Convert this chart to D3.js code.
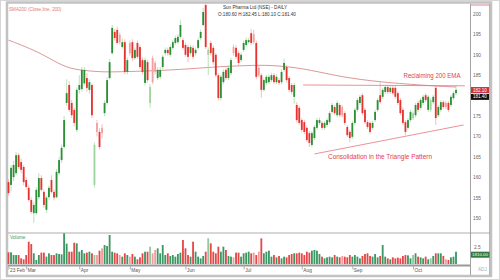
<!DOCTYPE html>
<html>
<head>
<meta charset="utf-8">
<script src="https://cdn.jsdelivr.net/npm/d3@7"></script>
<style>
  html, body { margin: 0; padding: 0; background: #fff; }
  svg { display: block; font-family: "Liberation Sans", Arial, sans-serif; }
</style>
</head>
<body>
<svg id="chart" width="500" height="280"></svg>
<script>
// daily candles
const opens = [
  158.8,158.1,160,161,165.4,163.7,162.5,159.3,157.4,154.4,
  151.2,151.2,155.1,159.8,156.4,152,155.1,159.3,156.4,155.1,
  161,164.2,167.4,178.2,182.6,178.2,176.5,171.6,181.4,181.6,
  183,184.3,181.4,182.6,158.1,173.3,171.1,172.1,175.7,178.2,
  184.3,190.4,195.6,196.1,194.9,191.9,193.1,185.8,192.9,193.1,
  189.2,192.9,191.9,188.7,183.1,188.2,178.2,189.2,188,184.3,
  184.6,187,190.4,191.2,190,191.7,192.9,193.1,194.4,193.6,
  192.4,191.9,190.4,191.7,190.4,191.7,194.1,197.3,202.2,190,
  192.9,191.7,190,185,179.4,183.3,186.3,184.3,185.5,191.9,
  191.7,190.4,188.7,191.2,192.4,193.1,195.3,195,192.9,186.8,
  185,181.4,183.1,183.3,183.8,185,183.3,183.8,183.3,186.3,
  187,184.3,182.6,179.7,177.7,177,174,173.5,172.1,170.8,
  167.9,169.6,172.1,173.3,173.3,172.1,172.8,173.5,176,177.2,
  175.2,177.7,177.2,175.7,172.3,171.1,169.9,173.3,176.5,178.2,
  180.1,176.5,173.5,173.3,172.1,174,176.5,180.1,179.7,180.9,
  182.1,180.9,181.9,181.9,180.6,178.9,176.5,173.5,172.1,174,
  174.5,175.2,178.2,177,178.2,180.1,176.5,176.5,178.4,181.9,
  175.2,176.5,178.4,178.2,178.2,177.7,179.4,180.6
];
const closes = [
  156.1,162.3,163,165.4,162.5,161.8,158.8,157.6,154.4,151.5,
  153.2,156.9,159.8,156.9,153.2,155,157.4,156.4,155,161.3,
  164.2,167.2,174,180.6,176.5,175.2,173.3,181.4,182.6,186.3,
  186.3,181.9,183.3,175.2,167.9,171.1,167.4,170.8,178.2,183.8,
  188.2,196.6,194.1,192.9,193.1,193.1,185.8,188.7,190.4,189.2,
  191.2,189.5,187,185.8,188.7,183.8,182.1,183.3,185.8,186.3,
  186.3,189.5,191.2,190.4,191.9,193.1,194.1,194.4,197.3,191.7,
  190,189.5,191.9,189.5,191.2,193.6,195.6,200.5,191.9,191.2,
  190.4,188.2,185,179.4,184.6,185.8,184.3,186.8,188.7,190.4,
  189.5,188,190,192.9,193.6,193.6,192.9,193.1,184.6,185,
  181.4,183.8,184.6,184.6,185,183.3,184.6,183.1,185.8,188,
  183.8,181.4,180.9,182.6,174,173.3,171.6,171.1,169.1,168.4,
  170.8,172.3,174,174,172.1,173.3,174,175.7,177.7,175.7,
  178.2,175.2,175.2,173.3,170.3,169.6,173.3,176.5,178.9,179.7,
  175.7,173.5,172.3,171.1,173.3,176,178.9,178.4,181.4,182.1,
  180.9,181.9,180.6,179.7,178.2,175.7,173.3,171.1,174,176,
  175.7,177.7,176.5,178.9,179.7,178.9,179.7,178.9,179.7,174.5,
  177.2,178.4,177.2,177.2,176.5,179.7,180.6,181.4
];
const highs = [
  159.5,163,164,166.2,166,164.5,163,160,158,155,
  154,157.5,161,160.5,157,155.5,158,160.5,157,162,
  165,168,175,184,183.5,179,177,182,185,187,
  187,185.5,184,183,168.5,174,172,173,178.8,184.5,
  189,197.3,196.3,196.8,195.5,194,193.8,189.3,193.5,193.8,
  191.8,193.5,192.5,189.3,189.3,188.8,182.8,189.8,188.5,187,
  187,190,191.8,191.8,192.5,193.7,194.7,195,198.5,194.2,
  193,192.5,192.5,192.3,191.8,194.2,196.2,201.5,202.8,191.8,
  193.5,192.3,190.5,185.5,185.2,186.4,186.8,187.4,189.3,192.5,
  192.3,191,190.6,193.5,194.2,194.2,196.3,196.1,193.5,187.3,
  185.5,184.3,185.1,185.2,185.6,185.5,185.2,184.3,186.4,189,
  187.5,184.8,183.1,183.2,178.4,177.5,174.5,174,172.6,171.3,
  171.3,172.8,174.5,174.6,173.8,173.8,174.5,176.2,178.2,177.7,
  178.8,178.2,177.7,176.2,172.8,171.6,173.8,177,179.4,180.2,
  180.6,177,174,173.8,173.8,176.5,179.4,183.3,181.9,182.6,
  182.6,182.4,182.4,182.4,181.1,179.4,177,174,174.5,176.5,
  176.2,178.2,178.7,179.4,180.2,180.6,180.2,179.4,180.2,182.6,
  177.7,178.9,178.9,178.7,178.7,180.2,181.1,182.45
];
const lows = [
  155.5,156.5,159,160.5,162,161,158,157,154,151,
  148.8,150.8,154.5,156.5,152.5,151.2,154.5,156,154.3,154.8,
  160.5,163.5,167,177.5,176,174.5,172.5,171,180.5,181,
  182.5,181,180.5,174.5,157.5,170,166.8,169.5,175,177.8,
  184,190,193.5,192.5,192.5,191.5,185.2,185.2,189.8,188.5,
  188.8,189,186.5,185.2,182.5,183.2,177,182.8,185.2,183.8,
  184,186.5,189.8,189.8,189.5,191.2,192.4,192.6,194,191.2,
  189.5,188.2,189.8,189,189.8,191.2,193.6,197,191.4,185,
  189.8,187.5,184.5,178.8,178.8,182.8,183.8,183.8,185,189.8,
  189,187.4,188.2,190.7,192,192.7,192.4,192.6,184,184.5,
  179.5,181,182.6,182.8,183.3,182.8,182.8,182.6,182.8,185.8,
  183.2,180.8,180.3,178,173.4,172.8,171,170.5,168.6,167.4,
  167.4,169.1,171.6,172.8,171.6,171.6,172.3,173,175.5,175.2,
  174.7,174.7,174.7,172.8,169.8,168.6,169.4,172.8,176,177.7,
  175.2,173,171.8,170.6,171.6,173.5,176,177.9,179.2,180.4,
  180.4,180.4,180.1,179.2,177.7,175.2,172.8,170.3,171.6,173.5,
  174,174.7,176,176.5,177.7,178.4,176,176,177.9,172.8,
  174.7,176,176.7,176.7,176,177.2,178.9,180.1
];
// volume in millions
const volumes = [
  1.72,1.72,1.32,1.32,1.32,0.83,0.69,1.32,3.28,2.94,
  1.57,0.59,1.32,1.67,1.67,1.08,1.57,1.32,1.32,1.57,
  1.47,1.42,4.51,3.0,1.81,1.81,3.14,3.04,1.81,2.06,
  1.57,1.67,1.81,1.57,1.32,1.32,1.96,2.30,2.79,2.65,
  4.26,1.81,1.67,1.57,1.32,1.08,1.57,1.32,1.08,1.47,
  1.08,0.69,0.98,1.57,1.81,1.81,2.55,1.57,2.06,2.30,
  1.57,2.79,1.32,1.57,1.18,1.32,1.08,1.47,1.67,3.53,
  2.30,1.32,1.08,3.28,1.81,1.08,0.83,1.18,1.81,3.77,
  3.04,1.81,1.57,2.55,1.81,2.55,2.06,1.18,1.08,0.98,
  1.67,1.67,1.08,1.57,1.67,1.81,1.57,1.67,1.32,1.81,
  3.77,1.57,1.81,1.96,1.08,1.32,0.98,1.18,0.83,1.08,
  0.98,1.32,1.47,1.57,1.57,1.67,1.57,1.32,1.81,1.67,
  1.96,2.06,1.96,1.47,1.08,0.83,0.98,1.08,0.98,1.32,
  1.08,0.98,1.18,1.08,0.98,1.32,1.08,1.32,1.08,0.83,
  1.18,1.47,1.57,1.18,1.08,1.47,0.98,1.18,2.79,1.08,
  0.83,0.69,0.98,0.83,0.93,0.83,1.18,1.32,1.27,0.83,
  1.32,1.57,1.08,0.98,0.83,1.08,0.69,0.83,1.18,1.57,
  1.57,1.57,1.18,0.69,0.59,0.98,1.08,1.81
];

// 200-day average, sampled at a few candles
const emaIdx  = [0, 10, 16, 23, 29, 36, 44, 67, 80, 95, 103, 116, 131, 147, 167, 177];
const emaVals = [193.6, 191.2, 189.2, 186.8, 186.2, 185.8, 185.8, 186.3, 187, 187.4, 187.5, 186.8, 184.6, 183.3, 182.4, 182.1];

// drawn pattern lines: [candle index, price]
const resistLine  = [[116.5, 182.6], [180.5, 182.4]];
const supportLine = [[121, 165.7], [180, 172.8]];

const monthIdx   = [0, 7, 28, 48, 70, 93, 116, 136, 160];
const monthNames = ["23 Feb", "Mar", "Apr", "May", "Jun", "Jul", "Aug", "Sep", "Oct"];
// 180 sits under the last-value boxes in the picture
const priceTicks = [150, 155, 160, 165, 170, 175, 185, 190, 195, 200];
const volTicks   = [2.5];

const N = closes.length;
const svg = d3.select("#chart");

const x = d3.scaleLinear().domain([0, N - 1]).range([8.5, 456]);
const y = d3.scaleLinear().domain([150, 200]).range([218, 14]);
const yv = d3.scaleLinear().domain([0, 2.5]).range([264, 247]);
const step = x(1) - x(0);
const bw = step * 0.72;

// colours: saturated when candle and day-change agree, light otherwise
const up = i => closes[i] >= opens[i];
const light = i => up(i) !== (closes[i] >= (i ? closes[i - 1] : opens[i]));
const candleCol = i => up(i) ? (light(i) ? "#9fd49f" : "#2a8f35") : (light(i) ? "#f3a0a0" : "#e8322f");
const volCol = i => up(i) ? (light(i) ? "#8ec9a2" : "#3b9763") : (light(i) ? "#f29c9c" : "#e54848");

// frame
svg.append("rect").attr("x", 0.5).attr("y", 0.5).attr("width", 499).attr("height", 279)
  .attr("fill", "#fff").attr("stroke", "#d6d6d6");
svg.append("rect").attr("x", 7).attr("y", 2.5).attr("width", 484).attr("height", 273.5)
  .attr("fill", "none").attr("stroke", "#c2c2c2").attr("stroke-width", 2.5);
svg.append("line").attr("x1", 470.5).attr("x2", 470.5).attr("y1", 4).attr("y2", 275)
  .attr("stroke", "#8c8c8c").attr("stroke-width", 0.8);
svg.append("line").attr("x1", 489.5).attr("x2", 489.5).attr("y1", 4).attr("y2", 275)
  .attr("stroke", "#e58a95").attr("stroke-width", 0.8);
svg.append("line").attr("x1", 471).attr("x2", 489.5).attr("y1", 5).attr("y2", 5)
  .attr("stroke", "#c86a80").attr("stroke-width", 0.8);
svg.append("line").attr("x1", 8).attr("x2", 490).attr("y1", 233).attr("y2", 233)
  .attr("stroke", "#9a9a9a").attr("stroke-width", 0.8);
svg.append("line").attr("x1", 8).attr("x2", 470).attr("y1", 265.5).attr("y2", 265.5)
  .attr("stroke", "#9a9a9a").attr("stroke-width", 2);

// average line
const emaPts = emaIdx.map((d, k) => [d, emaVals[k]]);
svg.append("path")
  .datum(emaPts)
  .attr("fill", "none")
  .attr("stroke", "#d98a8a")
  .attr("stroke-width", 0.9)
  .attr("d", d3.line().x(d => x(d[0])).y(d => y(d[1])).curve(d3.curveBasis));

// candles
const idx = d3.range(N);
const gc = svg.append("g");
gc.selectAll("line")
  .data(idx)
  .join("line")
  .attr("x1", i => x(i)).attr("x2", i => x(i))
  .attr("y1", i => y(highs[i])).attr("y2", i => y(lows[i]))
  .attr("stroke", i => up(i) ? "#9fd49f" : "#f3a0a0")
  .attr("stroke-width", 0.7);
gc.selectAll("rect")
  .data(idx)
  .join("rect")
  .attr("x", i => x(i) - bw / 2)
  .attr("width", bw)
  .attr("y", i => y(Math.max(opens[i], closes[i])))
  .attr("height", i => Math.max(0.8, Math.abs(y(opens[i]) - y(closes[i]))))
  .attr("fill", i => candleCol(i));

// pattern lines
const pline = d3.line().x(d => x(d[0])).y(d => y(d[1]));
[resistLine, supportLine].forEach(l => {
  svg.append("path").datum(l)
    .attr("fill", "none").attr("stroke", "#e8737c").attr("stroke-width", 0.8)
    .attr("d", pline);
});

// annotations
svg.append("text").attr("x", 432).attr("y", 77.5)
  .attr("text-anchor", "middle").attr("font-size", 7).attr("fill", "#e2404e")
  .attr("textLength", 57).attr("lengthAdjust", "spacingAndGlyphs")
  .text("Reclaiming 200 EMA");
svg.append("text").attr("x", 380).attr("y", 158.5)
  .attr("text-anchor", "middle").attr("font-size", 7).attr("fill", "#e2404e")
  .attr("textLength", 104).attr("lengthAdjust", "spacingAndGlyphs")
  .text("Consolidation in the Triangle Pattern");

// header texts
svg.append("text").attr("x", 9).attr("y", 11).attr("font-size", 4.6).attr("fill", "#e07a7a")
  .text("SMA200 (Close,line, 200)");
svg.append("text").attr("x", 223).attr("y", 8.5).attr("font-size", 4.6).attr("fill", "#333")
  .text("Sun Pharma Ltd (NSE) - DAILY");
svg.append("text").attr("x", 218).attr("y", 15.5).attr("font-size", 4.6).attr("fill", "#333")
  .text(`O:${opens[N - 1].toFixed(2)} H:${highs[N - 1].toFixed(2)} L:${lows[N - 1].toFixed(2)} C:${closes[N - 1].toFixed(2)}`);

// price axis
const ay = svg.append("g")
  .attr("transform", "translate(472,0)")
  .call(d3.axisRight(y).tickValues(priceTicks).tickSize(0).tickPadding(1).tickFormat(d3.format("d")));
ay.select(".domain").remove();
ay.selectAll("text").attr("font-size", 4.8).attr("fill", "#666").attr("font-family", "Liberation Sans, Arial");

// last-value boxes
const emaLast = emaVals[emaVals.length - 1];
svg.append("rect").attr("x", 471).attr("y", y(emaLast)).attr("width", 18).attr("height", 6).attr("fill", "#c9343e");
svg.append("text").attr("x", 480).attr("y", y(emaLast) + 4.5).attr("text-anchor", "middle")
  .attr("font-size", 4.5).attr("fill", "#fff").text(emaLast.toFixed(2));
svg.append("rect").attr("x", 471).attr("y", y(closes[N - 1]) + 4).attr("width", 18).attr("height", 6).attr("fill", "#111");
svg.append("text").attr("x", 480).attr("y", y(closes[N - 1]) + 8.5).attr("text-anchor", "middle")
  .attr("font-size", 4.5).attr("fill", "#fff").text(closes[N - 1].toFixed(2));

// volume
svg.append("text").attr("x", 10).attr("y", 239).attr("font-size", 4.6).attr("fill", "#3b9763").text("Volume");
svg.append("g").selectAll("rect")
  .data(idx)
  .join("rect")
  .attr("x", i => x(i) - bw / 2)
  .attr("width", bw)
  .attr("y", i => yv(volumes[i]))
  .attr("height", i => yv(0) - yv(volumes[i]))
  .attr("fill", i => volCol(i));

const av = svg.append("g")
  .attr("transform", "translate(473,0)")
  .call(d3.axisRight(yv).tickValues(volTicks).tickSize(0).tickPadding(1).tickFormat(d3.format(".1f")));
av.select(".domain").remove();
av.selectAll("text").attr("font-size", 4.8).attr("fill", "#666").attr("font-family", "Liberation Sans, Arial");
const vLast = volumes[N - 1];
svg.append("rect").attr("x", 471).attr("y", yv(vLast)).attr("width", 18.5).attr("height", 6).attr("fill", "#2f7a3c");
svg.append("text").attr("x", 480).attr("y", yv(vLast) + 4.5).attr("text-anchor", "middle")
  .attr("font-size", 4.4).attr("fill", "#fff").text((vLast * 1000).toFixed(2));
svg.append("text").attr("x", 478).attr("y", 270.5).attr("font-size", 4.6).attr("fill", "#aaa").text("ADJ");

// date axis
const ax = svg.append("g")
  .attr("transform", "translate(0,266.5)")
  .call(d3.axisBottom(x).tickValues(monthIdx).tickSize(3).tickPadding(0)
    .tickFormat((d, k) => monthNames[k]));
ax.select(".domain").remove();
ax.selectAll(".tick line").attr("stroke", "#777").attr("stroke-width", 0.6);
ax.selectAll("text").attr("font-size", 4.8).attr("fill", "#555").attr("text-anchor", "start")
  .attr("dx", 1).attr("dy", "0.5em").attr("font-family", "Liberation Sans, Arial");
</script>
</body>
</html>
